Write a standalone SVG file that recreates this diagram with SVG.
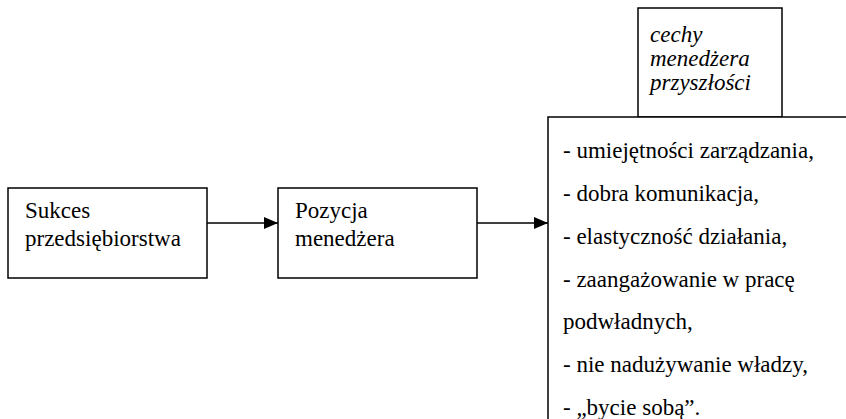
<svg xmlns="http://www.w3.org/2000/svg" width="846" height="419" viewBox="0 0 846 419">
<defs>
<marker id="ah" markerWidth="14" markerHeight="12" refX="14" refY="6" orient="auto" markerUnits="userSpaceOnUse">
<path d="M0,0 L14,6 L0,12 Z" fill="#000"/>
</marker>
</defs>
<rect width="846" height="419" fill="#fff"/>
<g id="connectors" stroke="#000" stroke-width="1.5" fill="none">
<line x1="207" y1="223" x2="278" y2="223" marker-end="url(#ah)"/>
<line x1="477" y1="223" x2="548" y2="223" marker-end="url(#ah)"/>
</g>
<g id="sukces">
<rect x="8" y="188" width="199" height="90" fill="#fff" stroke="#000" stroke-width="1.5"/>
<text x="25" y="218" font-family="Times New Roman, Tinos, Liberation Serif, serif" font-size="23">Sukces</text>
<text x="25" y="246" font-family="Times New Roman, Tinos, Liberation Serif, serif" font-size="23">przedsiębiorstwa</text>
</g>
<g id="pozycja">
<rect x="278" y="188" width="199" height="90" fill="#fff" stroke="#000" stroke-width="1.5"/>
<text x="295" y="218" font-family="Times New Roman, Tinos, Liberation Serif, serif" font-size="23">Pozycja</text>
<text x="295" y="246" font-family="Times New Roman, Tinos, Liberation Serif, serif" font-size="23">menedżera</text>
</g>
<g id="cechy">
<rect x="638" y="8" width="144" height="109" fill="#fff" stroke="#000" stroke-width="1.5"/>
<text x="650" y="42" font-family="Times New Roman, Tinos, Liberation Serif, serif" font-size="23" font-style="italic">cechy</text>
<text x="650" y="66" font-family="Times New Roman, Tinos, Liberation Serif, serif" font-size="23" font-style="italic">menedżera</text>
<text x="650" y="90" font-family="Times New Roman, Tinos, Liberation Serif, serif" font-size="23" font-style="italic">przyszłości</text>
</g>
<g id="lista">
<rect x="548" y="117" width="320" height="320" fill="#fff" stroke="#000" stroke-width="1.5"/>
<text x="563" y="158" font-family="Times New Roman, Tinos, Liberation Serif, serif" font-size="23">- umiejętności zarządzania,</text>
<text x="563" y="201" font-family="Times New Roman, Tinos, Liberation Serif, serif" font-size="23">- dobra komunikacja,</text>
<text x="563" y="244" font-family="Times New Roman, Tinos, Liberation Serif, serif" font-size="23">- elastyczność działania,</text>
<text x="563" y="287" font-family="Times New Roman, Tinos, Liberation Serif, serif" font-size="23">- zaangażowanie w pracę</text>
<text x="563" y="329" font-family="Times New Roman, Tinos, Liberation Serif, serif" font-size="23">podwładnych,</text>
<text x="563" y="372" font-family="Times New Roman, Tinos, Liberation Serif, serif" font-size="23">- nie nadużywanie władzy,</text>
<text x="563" y="415" font-family="Times New Roman, Tinos, Liberation Serif, serif" font-size="23">- „bycie sobą”.</text>
</g>
</svg>
